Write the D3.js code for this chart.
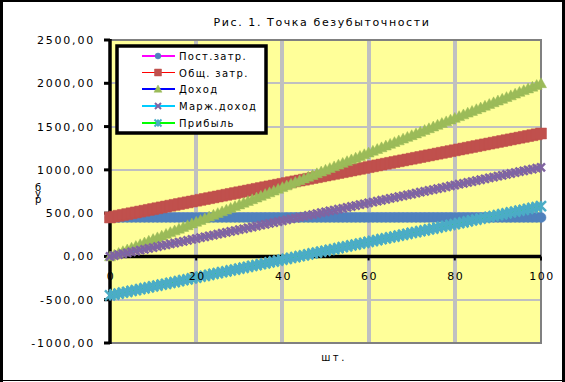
<!DOCTYPE html>
<html>
<head>
<meta charset="utf-8">
<script src="https://cdn.jsdelivr.net/npm/d3@7"></script>
<style>
  html, body { margin: 0; padding: 0; background: #fff; }
  svg { display: block; font-family: "DejaVu Sans", Verdana, sans-serif; }
</style>
</head>
<body>
<div id="chart"></div>
<script>
// Рис. 1 — точка безубыточности (Excel-style line chart, dense markers)

// ─── Data ─────────────────────────────────────────────────────────────────────
const qty = [
  0,1,2,3,4,5,6,7,8,9,10,11,12,13,14,15,16,17,18,19,20,
  21,22,23,24,25,26,27,28,29,30,31,32,33,34,35,36,37,38,39,40,
  41,42,43,44,45,46,47,48,49,50,51,52,53,54,55,56,57,58,59,60,
  61,62,63,64,65,66,67,68,69,70,71,72,73,74,75,76,77,78,79,80,
  81,82,83,84,85,86,87,88,89,90,91,92,93,94,95,96,97,98,99,100
];

const fixedCosts = [
  450,450,450,450,450,450,450,450,450,450,450,450,450,450,450,450,450,450,450,450,450,
  450,450,450,450,450,450,450,450,450,450,450,450,450,450,450,450,450,450,450,450,
  450,450,450,450,450,450,450,450,450,450,450,450,450,450,450,450,450,450,450,450,
  450,450,450,450,450,450,450,450,450,450,450,450,450,450,450,450,450,450,450,450,
  450,450,450,450,450,450,450,450,450,450,450,450,450,450,450,450,450,450,450,450
];

const totalCosts = [
  450,459.7,469.4,479.1,488.8,498.5,508.2,517.9,527.6,537.3,547,
  556.7,566.4,576.1,585.8,595.5,605.2,614.9,624.6,634.3,644,
  653.7,663.4,673.1,682.8,692.5,702.2,711.9,721.6,731.3,741,
  750.7,760.4,770.1,779.8,789.5,799.2,808.9,818.6,828.3,838,
  847.7,857.4,867.1,876.8,886.5,896.2,905.9,915.6,925.3,935,
  944.7,954.4,964.1,973.8,983.5,993.2,1002.9,1012.6,1022.3,1032,
  1041.7,1051.4,1061.1,1070.8,1080.5,1090.2,1099.9,1109.6,1119.3,1129,
  1138.7,1148.4,1158.1,1167.8,1177.5,1187.2,1196.9,1206.6,1216.3,1226,
  1235.7,1245.4,1255.1,1264.8,1274.5,1284.2,1293.9,1303.6,1313.3,1323,
  1332.7,1342.4,1352.1,1361.8,1371.5,1381.2,1390.9,1400.6,1410.3,1420
];

const revenue = [
  0,20,40,60,80,100,120,140,160,180,200,
  220,240,260,280,300,320,340,360,380,400,
  420,440,460,480,500,520,540,560,580,600,
  620,640,660,680,700,720,740,760,780,800,
  820,840,860,880,900,920,940,960,980,1000,
  1020,1040,1060,1080,1100,1120,1140,1160,1180,1200,
  1220,1240,1260,1280,1300,1320,1340,1360,1380,1400,
  1420,1440,1460,1480,1500,1520,1540,1560,1580,1600,
  1620,1640,1660,1680,1700,1720,1740,1760,1780,1800,
  1820,1840,1860,1880,1900,1920,1940,1960,1980,2000
];

const marginIncome = [
  0,10.3,20.6,30.9,41.2,51.5,61.8,72.1,82.4,92.7,103,
  113.3,123.6,133.9,144.2,154.5,164.8,175.1,185.4,195.7,206,
  216.3,226.6,236.9,247.2,257.5,267.8,278.1,288.4,298.7,309,
  319.3,329.6,339.9,350.2,360.5,370.8,381.1,391.4,401.7,412,
  422.3,432.6,442.9,453.2,463.5,473.8,484.1,494.4,504.7,515,
  525.3,535.6,545.9,556.2,566.5,576.8,587.1,597.4,607.7,618,
  628.3,638.6,648.9,659.2,669.5,679.8,690.1,700.4,710.7,721,
  731.3,741.6,751.9,762.2,772.5,782.8,793.1,803.4,813.7,824,
  834.3,844.6,854.9,865.2,875.5,885.8,896.1,906.4,916.7,927,
  937.3,947.6,957.9,968.2,978.5,988.8,999.1,1009.4,1019.7,1030
];

const profit = [
  -450,-439.7,-429.4,-419.1,-408.8,-398.5,-388.2,-377.9,-367.6,-357.3,-347,
  -336.7,-326.4,-316.1,-305.8,-295.5,-285.2,-274.9,-264.6,-254.3,-244,
  -233.7,-223.4,-213.1,-202.8,-192.5,-182.2,-171.9,-161.6,-151.3,-141,
  -130.7,-120.4,-110.1,-99.8,-89.5,-79.2,-68.9,-58.6,-48.3,-38,
  -27.7,-17.4,-7.1,3.2,13.5,23.8,34.1,44.4,54.7,65,
  75.3,85.6,95.9,106.2,116.5,126.8,137.1,147.4,157.7,168,
  178.3,188.6,198.9,209.2,219.5,229.8,240.1,250.4,260.7,271,
  281.3,291.6,301.9,312.2,322.5,332.8,343.1,353.4,363.7,374,
  384.3,394.6,404.9,415.2,425.5,435.8,446.1,456.4,466.7,477,
  487.3,497.6,507.9,518.2,528.5,538.8,549.1,559.4,569.7,580
];

const seriesNames = ['Пост.затр.', 'Общ. затр.', 'Доход', 'Марж.доход', 'Прибыль'];
const seriesValues = [fixedCosts, totalCosts, revenue, marginIncome, profit];

const yTicks = [-1000, -500, 0, 500, 1000, 1500, 2000, 2500];
const xTicks = [0, 20, 40, 60, 80, 100];

// ─── Styles ───────────────────────────────────────────────────────────────────
const W = 565, H = 382;
const PLOT = { left: 110, right: 541, top: 40, bottom: 343 };

const LINE_COLORS   = ['#ff00ff', '#ff0000', '#0000ff', '#00ccff', '#00ff00'];
const LINE_WIDTHS   = [2, 1, 2, 2, 2];
const MARKER_COLORS = ['#4f81bd', '#c0504d', '#9bbb59', '#8064a2', '#4bacc6'];
const MARKER_TYPES  = ['circle', 'square', 'triangle', 'cross', 'star'];

// Marker path centered on 0,0; s = nominal size in px
function markerPath(type, s) {
  const h = s / 2;
  switch (type) {
    case 'circle':   return d3.symbol(d3.symbolCircle, Math.PI * h * h)();
    case 'square':   return `M${-h},${-h}H${h}V${h}H${-h}Z`;
    case 'triangle': return `M0,${-h}L${h},${h * 0.8}L${-h},${h * 0.8}Z`;
    case 'cross':    return `M${-h},${-h}L${h},${h}M${h},${-h}L${-h},${h}`;
    case 'star':     return `M${-h},${-h}L${h},${h}M${h},${-h}L${-h},${h}M0,${-h}V${h}`;
  }
}
function isStroked(type) { return type === 'cross' || type === 'star'; }

const fmt = v => d3.format('.2f')(v).replace('.', ',').replace('−', '-');

// ─── Chart ────────────────────────────────────────────────────────────────────
const svg = d3.select('#chart').append('svg')
  .attr('width', W).attr('height', H)
  .attr('viewBox', `0 0 ${W} ${H}`);

svg.append('rect').attr('width', W).attr('height', H).attr('fill', '#fff');

const x = d3.scaleLinear().domain([0, 100]).range([PLOT.left, PLOT.right]);
const y = d3.scaleLinear().domain([-1000, 2500]).range([PLOT.bottom, PLOT.top]);

// plot area
svg.append('rect')
  .attr('x', PLOT.left).attr('y', PLOT.top)
  .attr('width', PLOT.right - PLOT.left).attr('height', PLOT.bottom - PLOT.top)
  .attr('fill', '#ffff99');

// gridlines
svg.append('g').selectAll('line')
  .data(yTicks.filter(t => t !== 0 && t !== -1000 && t !== 2500))
  .join('line')
  .attr('x1', PLOT.left).attr('x2', PLOT.right)
  .attr('y1', d => Math.round(y(d))).attr('y2', d => Math.round(y(d)))
  .attr('stroke', '#c0c0c0').attr('stroke-width', 2)
  .attr('shape-rendering', 'crispEdges');

svg.append('g').selectAll('line')
  .data(xTicks.filter(t => t !== 0 && t !== 100))
  .join('line')
  .attr('x1', d => Math.round(x(d))).attr('x2', d => Math.round(x(d)))
  .attr('y1', PLOT.top).attr('y2', PLOT.bottom)
  .attr('stroke', '#c0c0c0').attr('stroke-width', 3.5)
  .attr('shape-rendering', 'crispEdges');

// plot border (gray)
svg.append('rect')
  .attr('x', PLOT.left).attr('y', PLOT.top)
  .attr('width', PLOT.right - PLOT.left).attr('height', PLOT.bottom - PLOT.top)
  .attr('fill', 'none').attr('stroke', '#808080').attr('stroke-width', 2.5)
  .attr('shape-rendering', 'crispEdges');

// y tick labels
const yLab = svg.append('g')
  .attr('font-size', 11).attr('letter-spacing', '1.8px').attr('fill', '#000');
yLab.selectAll('text').data(yTicks).join('text')
  .attr('x', 95).attr('y', d => y(d) + 4)
  .attr('text-anchor', 'end')
  .text(d => fmt(d));

// "0" label sits under the value axis line
svg.append('text')
  .attr('x', x(0) + 1).attr('y', 280)
  .attr('text-anchor', 'middle')
  .attr('font-size', 11).attr('letter-spacing', '1.5px')
  .text(xTicks[0]);

// axes
svg.append('line')
  .attr('x1', PLOT.left).attr('x2', PLOT.left)
  .attr('y1', PLOT.top - 1).attr('y2', PLOT.bottom + 1)
  .attr('stroke', '#000').attr('stroke-width', 3.5);
svg.append('g').selectAll('line').data(yTicks).join('line')
  .attr('x1', PLOT.left - 6).attr('x2', PLOT.left)
  .attr('y1', d => y(d)).attr('y2', d => y(d))
  .attr('stroke', '#000').attr('stroke-width', 3);

svg.append('line')
  .attr('x1', PLOT.left).attr('x2', PLOT.right)
  .attr('y1', y(0)).attr('y2', y(0))
  .attr('stroke', '#000').attr('stroke-width', 3.5);
svg.append('g').selectAll('line').data(xTicks).join('line')
  .attr('x1', d => x(d)).attr('x2', d => x(d))
  .attr('y1', y(0)).attr('y2', y(0) + 4)
  .attr('stroke', '#000').attr('stroke-width', 2);

// series: thin line, then dense markers
const MARKER_SIZE = [10, 11, 11, 8, 10];
seriesValues.forEach((vals, i) => {
  const g = svg.append('g').attr('class', 'series');
  const line = d3.line().x((d, j) => x(qty[j])).y(d => y(d));
  g.append('path').datum(vals)
    .attr('d', line)
    .attr('fill', 'none')
    .attr('stroke', LINE_COLORS[i])
    .attr('stroke-width', LINE_WIDTHS[i]);
  const type = MARKER_TYPES[i];
  g.selectAll('path.mk').data(vals).join('path')
    .attr('class', 'mk')
    .attr('transform', (d, j) => `translate(${x(qty[j])},${y(d)})`)
    .attr('d', markerPath(type, MARKER_SIZE[i]))
    .attr('fill', isStroked(type) ? 'none' : MARKER_COLORS[i])
    .attr('stroke', MARKER_COLORS[i])
    .attr('stroke-width', isStroked(type) ? 2.5 : 0.5);
});

// x tick labels (drawn over the series, as in the original)
const xLab = svg.append('g')
  .attr('font-size', 11).attr('letter-spacing', '1.5px').attr('fill', '#000');
xLab.selectAll('text').data(xTicks.slice(1)).join('text')
  .attr('x', d => x(d) + 1).attr('y', 280)
  .attr('text-anchor', 'middle')
  .text(d => d);

// title
svg.append('text')
  .attr('x', 322).attr('y', 26)
  .attr('text-anchor', 'middle')
  .attr('font-size', 11)
  .attr('letter-spacing', '1.6px')
  .text('Рис. 1. Точка безубыточности');

// axis titles: "руб" runs bottom-to-top, each glyph kept upright
svg.append('text')
  .attr('transform', 'translate(35,203) rotate(-90)')
  .attr('rotate', 90)
  .attr('font-size', 10)
  .text('руб');
svg.append('text')
  .attr('x', 334).attr('y', 361)
  .attr('text-anchor', 'middle')
  .attr('font-size', 10)
  .attr('letter-spacing', '2.5px')
  .text('шт.');

// legend
const LEG = { x: 117, y: 46, w: 149, h: 87 };
const leg = svg.append('g');
leg.append('rect')
  .attr('x', LEG.x).attr('y', LEG.y).attr('width', LEG.w).attr('height', LEG.h)
  .attr('fill', '#fff').attr('stroke', '#000').attr('stroke-width', 3.5);
const LEG_ROWS = [56, 72.5, 89, 106, 123];
const LEG_MARK = [6, 7, 8, 6, 7];
seriesNames.forEach((name, i) => {
  const cy = LEG_ROWS[i];
  leg.append('line')
    .attr('x1', 142).attr('x2', 175).attr('y1', cy).attr('y2', cy)
    .attr('stroke', LINE_COLORS[i]).attr('stroke-width', LINE_WIDTHS[i]);
  const type = MARKER_TYPES[i];
  leg.append('path')
    .attr('transform', `translate(158,${cy})`)
    .attr('d', markerPath(type, LEG_MARK[i]))
    .attr('fill', isStroked(type) ? 'none' : MARKER_COLORS[i])
    .attr('stroke', MARKER_COLORS[i])
    .attr('stroke-width', isStroked(type) ? 2 : 0.5);
  leg.append('text')
    .attr('x', 179).attr('y', cy + 4)
    .attr('font-size', 10).attr('letter-spacing', '1.3px')
    .text(name);
});

// outer chart border
const bd = svg.append('g').attr('stroke', '#000').attr('shape-rendering', 'crispEdges');
bd.append('line').attr('x1', 0).attr('x2', W).attr('y1', 1).attr('y2', 1).attr('stroke-width', 2);
bd.append('line').attr('x1', 1.5).attr('x2', 1.5).attr('y1', 0).attr('y2', H).attr('stroke-width', 3);
bd.append('line').attr('x1', W - 2).attr('x2', W - 2).attr('y1', 0).attr('y2', H).attr('stroke-width', 3);
bd.append('line').attr('x1', 0).attr('x2', W).attr('y1', H - 1.5).attr('y2', H - 1.5).attr('stroke-width', 1);
</script>
</body>
</html>
